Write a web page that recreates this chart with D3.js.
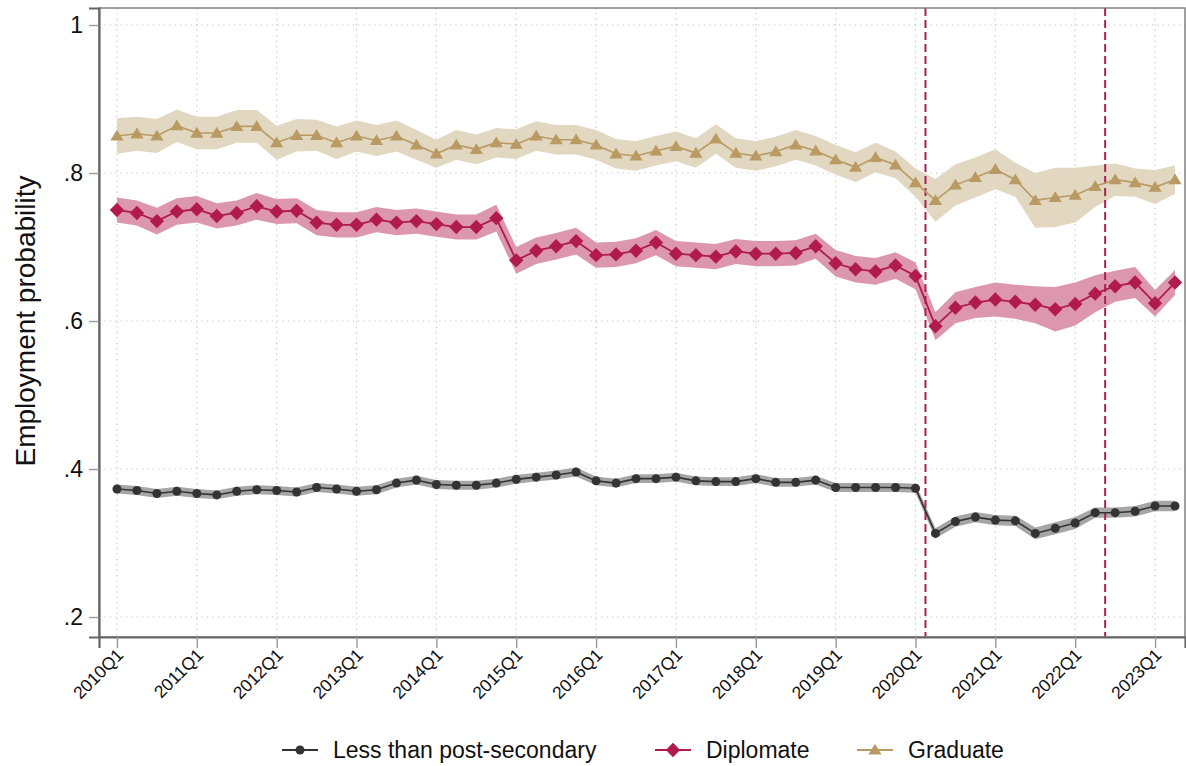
<!DOCTYPE html>
<html>
<head>
<meta charset="utf-8">
<script src="https://cdn.jsdelivr.net/npm/d3@7"></script>
<style>
  body { margin: 0; background: #fff; }
  svg { display: block; font-family: "Liberation Sans", Arial, Helvetica, sans-serif; }
</style>
</head>
<body>
<svg id="chart" width="1186" height="766"></svg>
<script>
// Quarterly periods on the x axis
const quarters = [
  "2010Q1","2010Q2","2010Q3","2010Q4","2011Q1","2011Q2","2011Q3","2011Q4",
  "2012Q1","2012Q2","2012Q3","2012Q4","2013Q1","2013Q2","2013Q3","2013Q4",
  "2014Q1","2014Q2","2014Q3","2014Q4","2015Q1","2015Q2","2015Q3","2015Q4",
  "2016Q1","2016Q2","2016Q3","2016Q4","2017Q1","2017Q2","2017Q3","2017Q4",
  "2018Q1","2018Q2","2018Q3","2018Q4","2019Q1","2019Q2","2019Q3","2019Q4",
  "2020Q1","2020Q2","2020Q3","2020Q4","2021Q1","2021Q2","2021Q3","2021Q4",
  "2022Q1","2022Q2","2022Q3","2022Q4","2023Q1","2023Q2"
];

const xTickLabels = ["2010Q1","2011Q1","2012Q1","2013Q1","2014Q1","2015Q1","2016Q1",
  "2017Q1","2018Q1","2019Q1","2020Q1","2021Q1","2022Q1","2023Q1"];
const yTicks = [0.2, 0.4, 0.6, 0.8, 1];
const yTickLabels = [".2", ".4", ".6", ".8", "1"];

// Reference lines sit halfway after these quarters
const eventAfter = ["2020Q1", "2022Q2"];

// Less than post-secondary: point estimate and 95% CI half-width
const lessMean = [
  .373,.371,.367,.370,.367,.365,.370,.372,.371,.369,.375,.373,.370,.372,.381,.385,
  .379,.378,.378,.381,.386,.389,.392,.396,.384,.381,.387,.387,.389,.384,.383,.383,
  .387,.382,.382,.385,.375,.375,.375,.375,.374,.313,.329,.335,.331,.330,.313,.320,
  .327,.341,.341,.343,.350,.350
];
const lessCI = [
  .006,.006,.006,.006,.006,.006,.006,.006,.006,.006,.006,.006,.006,.006,.006,.006,
  .006,.006,.006,.006,.006,.006,.006,.006,.006,.006,.006,.006,.006,.006,.006,.006,
  .006,.006,.006,.006,.006,.006,.006,.006,.006,.007,.007,.007,.007,.007,.008,.008,
  .008,.007,.007,.007,.007,.007
];

// Diplomate
const dipMean = [
  .750,.746,.735,.748,.751,.742,.746,.755,.748,.749,.733,.730,.730,.737,.733,.735,
  .731,.727,.727,.739,.682,.695,.701,.708,.689,.690,.695,.706,.691,.689,.687,.694,
  .691,.691,.692,.701,.678,.670,.667,.675,.661,.593,.618,.625,.629,.626,.622,.616,
  .623,.637,.647,.652,.624,.652
];
const dipCI = [
  .017,.017,.018,.018,.018,.017,.017,.018,.017,.017,.017,.017,.017,.017,.017,.017,
  .017,.017,.017,.018,.018,.018,.018,.018,.017,.017,.017,.017,.017,.017,.017,.017,
  .017,.017,.017,.017,.018,.018,.018,.018,.018,.019,.021,.021,.023,.023,.025,.030,
  .029,.025,.021,.021,.018,.017
];

// Graduate
const gradMean = [
  .850,.853,.850,.864,.854,.854,.863,.863,.841,.851,.851,.841,.850,.844,.850,.838,
  .826,.838,.832,.841,.839,.850,.845,.845,.838,.826,.823,.830,.836,.827,.846,.827,
  .823,.829,.838,.830,.818,.808,.821,.811,.787,.763,.784,.794,.805,.791,.763,.767,
  .770,.782,.791,.787,.781,.791
];
const gradCI = [
  .024,.023,.023,.022,.022,.022,.022,.022,.023,.022,.021,.022,.021,.021,.021,.020,
  .019,.020,.020,.020,.020,.020,.020,.020,.020,.020,.020,.020,.020,.020,.020,.020,
  .020,.020,.020,.020,.020,.020,.020,.018,.019,.029,.028,.027,.027,.023,.037,.040,
  .037,.028,.022,.019,.023,.019
];

const seriesNames = ["Less than post-secondary", "Diplomate", "Graduate"];

const series = [
  { name: seriesNames[0], mean: lessMean, ci: lessCI, color: "#333333", band: "#a6a6a6", symbol: "circle",   lw: 1.6 },
  { name: seriesNames[1], mean: dipMean,  ci: dipCI,  color: "#b11a4c", band: "#dc97ae", symbol: "diamond",  lw: 1.8 },
  { name: seriesNames[2], mean: gradMean, ci: gradCI, color: "#b99a62", band: "#e2d7c0", symbol: "triangle", lw: 1.6 }
];

const svg = d3.select("#chart");
const plot = { left: 99, right: 1185, top: 8, bottom: 637 };

const x = d3.scaleLinear().domain([-0.9, 53.5]).range([plot.left, plot.right]);
const y = d3.scaleLinear().domain([0.173, 1.023]).range([plot.bottom, plot.top]);
const qIndex = q => quarters.indexOf(q);

// Grid lines (dotted)
const grid = svg.append("g").attr("stroke", "#c4c4c4").attr("stroke-width", 1.2)
  .attr("stroke-dasharray", "1.2,4.2");
grid.selectAll("line.h").data(yTicks).join("line")
  .attr("x1", plot.left).attr("x2", plot.right)
  .attr("y1", d => y(d)).attr("y2", d => y(d));
grid.selectAll("line.v").data(xTickLabels).join("line")
  .attr("x1", d => x(qIndex(d))).attr("x2", d => x(qIndex(d)))
  .attr("y1", plot.top).attr("y2", plot.bottom);

// Confidence bands
const bandArea = s => d3.area()
  .x((d, i) => x(i))
  .y0((d, i) => y(s.mean[i] - s.ci[i]))
  .y1((d, i) => y(s.mean[i] + s.ci[i]));
svg.append("g").selectAll("path").data(series).join("path")
  .attr("d", s => bandArea(s)(s.mean))
  .attr("fill", s => s.band);

// Reference lines
svg.append("g").selectAll("line").data(eventAfter).join("line")
  .attr("x1", d => x(qIndex(d) + 0.5)).attr("x2", d => x(qIndex(d) + 0.5))
  .attr("y1", plot.top).attr("y2", plot.bottom)
  .attr("stroke", "#a8234f").attr("stroke-width", 2)
  .attr("stroke-dasharray", "8,4");

// Marker shapes
const symbolPath = (kind) => {
  if (kind === "circle") return d3.symbol(d3.symbolCircle, 64)();
  if (kind === "diamond") return "M0,-7.2L7.2,0L0,7.2L-7.2,0Z";
  return "M0,-6.2L6.6,4.6L-6.6,4.6Z";
};

// Connected lines and markers
const lineGen = s => d3.line().x((d, i) => x(i)).y(d => y(d))(s.mean);
series.forEach(s => {
  const g = svg.append("g");
  g.append("path").attr("d", lineGen(s))
    .attr("fill", "none").attr("stroke", s.color).attr("stroke-width", s.lw);
  g.selectAll("path.m").data(s.mean).join("path")
    .attr("class", "m")
    .attr("transform", (d, i) => `translate(${x(i)},${y(d)})`)
    .attr("d", symbolPath(s.symbol))
    .attr("fill", s.color);
});

// Plot frame
svg.append("rect")
  .attr("x", plot.left).attr("y", plot.top)
  .attr("width", plot.right - plot.left).attr("height", plot.bottom - plot.top)
  .attr("fill", "none").attr("stroke", "#777").attr("stroke-width", 1.4);

// Y axis
const yAxis = d3.axisLeft(y).tickValues(yTicks)
  .tickFormat((d, i) => yTickLabels[i]).tickSize(10).tickPadding(6);
const gy = svg.append("g").attr("transform", `translate(${plot.left},0)`).call(yAxis);
gy.select(".domain").attr("stroke", "#666").attr("stroke-width", 2.2);
gy.selectAll(".tick line").attr("stroke", "#999").attr("stroke-width", 1.4);
gy.selectAll(".tick text").attr("font-size", 23).attr("fill", "#111")
  .attr("font-family", "'Liberation Sans', Arial, sans-serif");

// X axis
const xAxis = d3.axisBottom(x).tickValues(xTickLabels.map(qIndex))
  .tickFormat((d, i) => xTickLabels[i]).tickSize(11);
const gx = svg.append("g").attr("transform", `translate(0,${plot.bottom})`).call(xAxis);
gx.select(".domain").attr("stroke", "#666").attr("stroke-width", 2.2);
gx.selectAll(".tick line").attr("stroke", "#999").attr("stroke-width", 1.4);
gx.selectAll(".tick text")
  .attr("font-size", 17.5).attr("fill", "#111")
  .attr("font-family", "'Liberation Sans', Arial, sans-serif")
  .attr("text-anchor", "end").attr("dy", null).attr("y", 0)
  .attr("transform", "translate(7,19) rotate(-45)");

// Y axis title
svg.append("text")
  .attr("transform", `translate(35,${y(0.6)}) rotate(-90)`)
  .attr("text-anchor", "middle").attr("font-size", 28).attr("fill", "#111")
  .text("Employment probability");

// Legend
const legendX = [282, 655, 857];
const legend = svg.append("g").attr("transform", "translate(0,750)");
series.forEach((s, i) => {
  const g = legend.append("g").attr("transform", `translate(${legendX[i]},0)`);
  g.append("line").attr("x1", 0).attr("x2", 36).attr("y1", 0).attr("y2", 0)
    .attr("stroke", s.color).attr("stroke-width", 1.8);
  g.append("path").attr("transform", "translate(18,0)")
    .attr("d", symbolPath(s.symbol)).attr("fill", s.color);
  g.append("text").attr("x", 51).attr("y", 0).attr("dy", "0.35em")
    .attr("font-size", 23).attr("fill", "#111").text(s.name);
});
</script>
</body>
</html>
